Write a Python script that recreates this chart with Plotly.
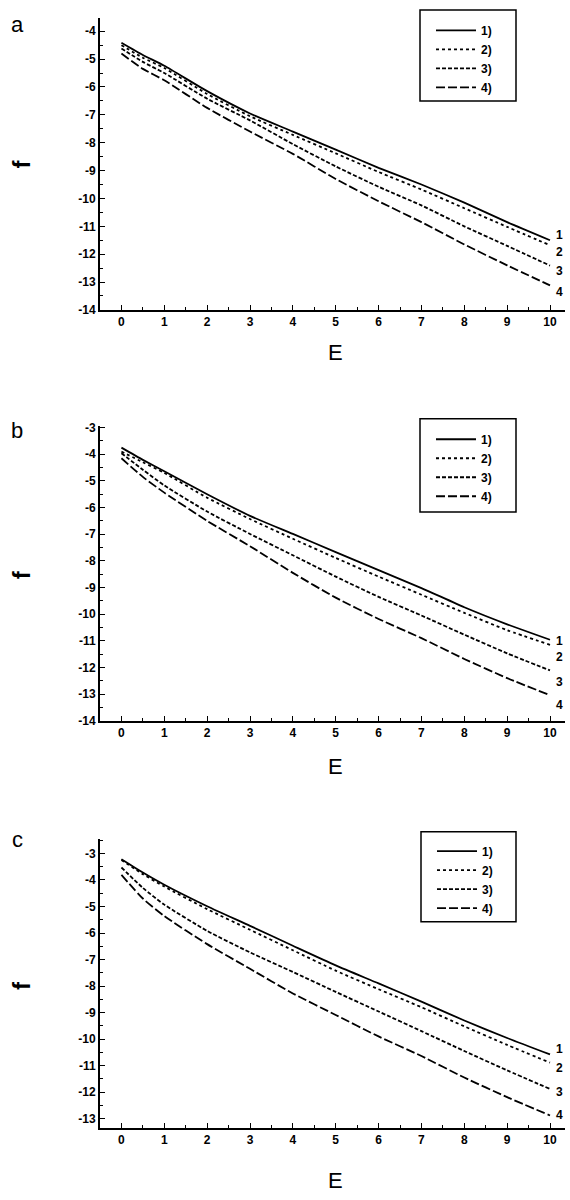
import plotly.graph_objects as go

# ---------------- data ----------------
E = [0, 0.5, 1, 2, 3, 4, 5, 6, 7, 8, 9, 10]

a1 = [-4.41, -4.85, -5.24, -6.15, -6.95, -7.60, -8.25, -8.90, -9.50, -10.15, -10.85, -11.50]
a2 = [-4.50, -4.95, -5.32, -6.25, -7.05, -7.72, -8.38, -9.05, -9.68, -10.35, -11.02, -11.68]
a3 = [-4.62, -5.10, -5.50, -6.42, -7.20, -8.05, -8.85, -9.58, -10.25, -11.00, -11.70, -12.41]
a4 = [-4.80, -5.35, -5.76, -6.75, -7.60, -8.40, -9.30, -10.10, -10.85, -11.65, -12.40, -13.12]

b1 = [-3.75, -4.21, -4.64, -5.50, -6.31, -6.99, -7.67, -8.35, -9.02, -9.74, -10.38, -10.96]
b2 = [-3.90, -4.30, -4.70, -5.63, -6.43, -7.17, -7.89, -8.59, -9.27, -9.95, -10.60, -11.15]
b3 = [-3.96, -4.58, -5.17, -6.15, -6.99, -7.79, -8.59, -9.35, -10.05, -10.77, -11.47, -12.11]
b4 = [-4.15, -4.85, -5.44, -6.50, -7.45, -8.45, -9.38, -10.18, -10.90, -11.68, -12.40, -13.04]

c1 = [-3.22, -3.72, -4.18, -4.99, -5.73, -6.48, -7.22, -7.90, -8.59, -9.30, -9.96, -10.58]
c2 = [-3.25, -3.78, -4.25, -5.10, -5.88, -6.65, -7.42, -8.12, -8.80, -9.52, -10.22, -10.89]
c3 = [-3.53, -4.30, -4.93, -5.92, -6.73, -7.47, -8.22, -8.96, -9.70, -10.45, -11.18, -11.88]
c4 = [-3.81, -4.70, -5.36, -6.42, -7.35, -8.28, -9.09, -9.90, -10.64, -11.45, -12.19, -12.88]

legend_labels = ["1)", "2)", "3)", "4)"]
end_labels = ["1", "2", "3", "4"]
panel_letters = ["a", "b", "c"]
end_label_y = {
    "a": [-11.30, -11.92, -12.59, -13.37],
    "b": [-10.99, -11.59, -12.55, -13.41],
    "c": [-10.39, -11.08, -12.00, -12.88],
}
x_ticks = list(range(0, 11))

# ---------------- styling / layout ----------------
W, H = 570, 1200
FONT = "Liberation Sans, Arial, sans-serif"
dashes = ["solid", "dot", "4px,2px", "9px,3px"]

panels = {
    "a": dict(series=[a1, a2, a3, a4], ytop=13, ybot=308, yrange=[-14, -3.52],
              yticks=list(range(-14, -3)), legbox=(420, 5, 516, 97), legtop=11,
              ftitle=160, Etitle=351, letter_y=20),
    "b": dict(series=[b1, b2, b3, b4], ytop=425, ybot=723, yrange=[-14, -2.93],
              yticks=list(range(-14, -2)), legbox=(420, 418, 516, 512), legtop=424,
              ftitle=575, Etitle=769, letter_y=430),
    "c": dict(series=[c1, c2, c3, c4], ytop=842, ybot=1134, yrange=[-13.34, -2.44],
              yticks=list(range(-13, -2)), legbox=(421, 835, 516, 926), legtop=840,
              ftitle=990, Etitle=1187, letter_y=843),
}

x_left, x_right = 100, 565
x_range = [-0.5, 10.35]

fig = go.Figure()
layout = dict(width=W, height=H, margin=dict(l=0, r=0, t=0, b=0),
              paper_bgcolor="white", plot_bgcolor="white", autosize=False,
              font=dict(family=FONT, color="black"), showlegend=True)
annotations = []
shapes = []

for i, key in enumerate(["a", "b", "c"]):
    p = panels[key]
    n = "" if i == 0 else str(i + 1)
    xa, ya = "x" + n, "y" + n
    leg = "legend" + n
    for j, ys in enumerate(p["series"]):
        fig.add_trace(go.Scatter(
            x=E, y=ys, mode="lines", name=legend_labels[j],
            line=dict(color="black", width=1.8, dash=dashes[j], shape="spline", smoothing=0.6),
            xaxis=xa, yaxis=ya, legend=leg, showlegend=True))
    tickfont = dict(family=FONT, size=12, color="black", weight="bold")
    layout["xaxis" + n] = dict(
        domain=[x_left / W, x_right / W], range=x_range, anchor=ya,
        showline=True, linecolor="black", linewidth=2, showgrid=False, zeroline=False,
        ticks="inside", ticklen=5, tickwidth=1, tickcolor="black",
        tickvals=x_ticks, ticktext=[str(v) for v in x_ticks], tickfont=tickfont,
        minor=dict(ticks="inside", dtick=0.5, tick0=0, ticklen=3, tickcolor="black", showgrid=False),
        fixedrange=True)
    layout["yaxis" + n] = dict(
        domain=[1 - p["ybot"] / H, 1 - p["ytop"] / H], range=p["yrange"], anchor=xa,
        showline=True, linecolor="black", linewidth=2, showgrid=False, zeroline=False,
        ticks="inside", ticklen=5, tickwidth=1, tickcolor="black",
        tickvals=p["yticks"], ticktext=[str(v) for v in p["yticks"]], tickfont=tickfont,
        minor=dict(ticks="inside", dtick=0.5, ticklen=3, tickcolor="black", showgrid=False),
        fixedrange=True)
    bx0, by0, bx1, by1 = p["legbox"]
    shapes.append(dict(type="rect", xref="paper", yref="paper",
                       x0=bx0 / W, x1=bx1 / W, y0=1 - by1 / H, y1=1 - by0 / H,
                       line=dict(color="black", width=1.5), fillcolor="rgba(0,0,0,0)"))
    layout[leg] = dict(x=(bx0 + 11) / W, y=1 - p["legtop"] / H, xanchor="left", yanchor="top",
                       bgcolor="rgba(0,0,0,0)", borderwidth=0,
                       font=dict(family=FONT, size=12, color="black", weight="bold"),
                       itemwidth=40, tracegroupgap=0)
    # end-of-curve labels
    for j, t in enumerate(end_labels):
        annotations.append(dict(x=10.23, y=end_label_y[key][j], xref=xa, yref=ya,
                                text=t, showarrow=False, xanchor="center", yanchor="middle",
                                font=dict(family=FONT, size=12, color="black", weight="bold")))
    # axis titles
    annotations.append(dict(x=335 / W, y=1 - p["Etitle"] / H, xref="paper", yref="paper",
                            text="E", showarrow=False, xanchor="center", yanchor="middle",
                            font=dict(family=FONT, size=22, color="black")))
    annotations.append(dict(x=21 / W, y=1 - p["ftitle"] / H, xref="paper", yref="paper",
                            text="f", showarrow=False, textangle=-90,
                            xanchor="center", yanchor="middle",
                            font=dict(family=FONT, size=24, color="black", weight="bold")))
    annotations.append(dict(x=17 / W, y=1 - p["letter_y"] / H, xref="paper", yref="paper",
                            text=panel_letters[i], showarrow=False,
                            xanchor="center", yanchor="middle",
                            font=dict(family=FONT, size=22, color="black")))

layout["annotations"] = annotations
layout["shapes"] = shapes
fig.update_layout(**layout)
fig.write_html("out.html", config={"displayModeBar": False},
               post_script="document.body.style.margin='0px';")
